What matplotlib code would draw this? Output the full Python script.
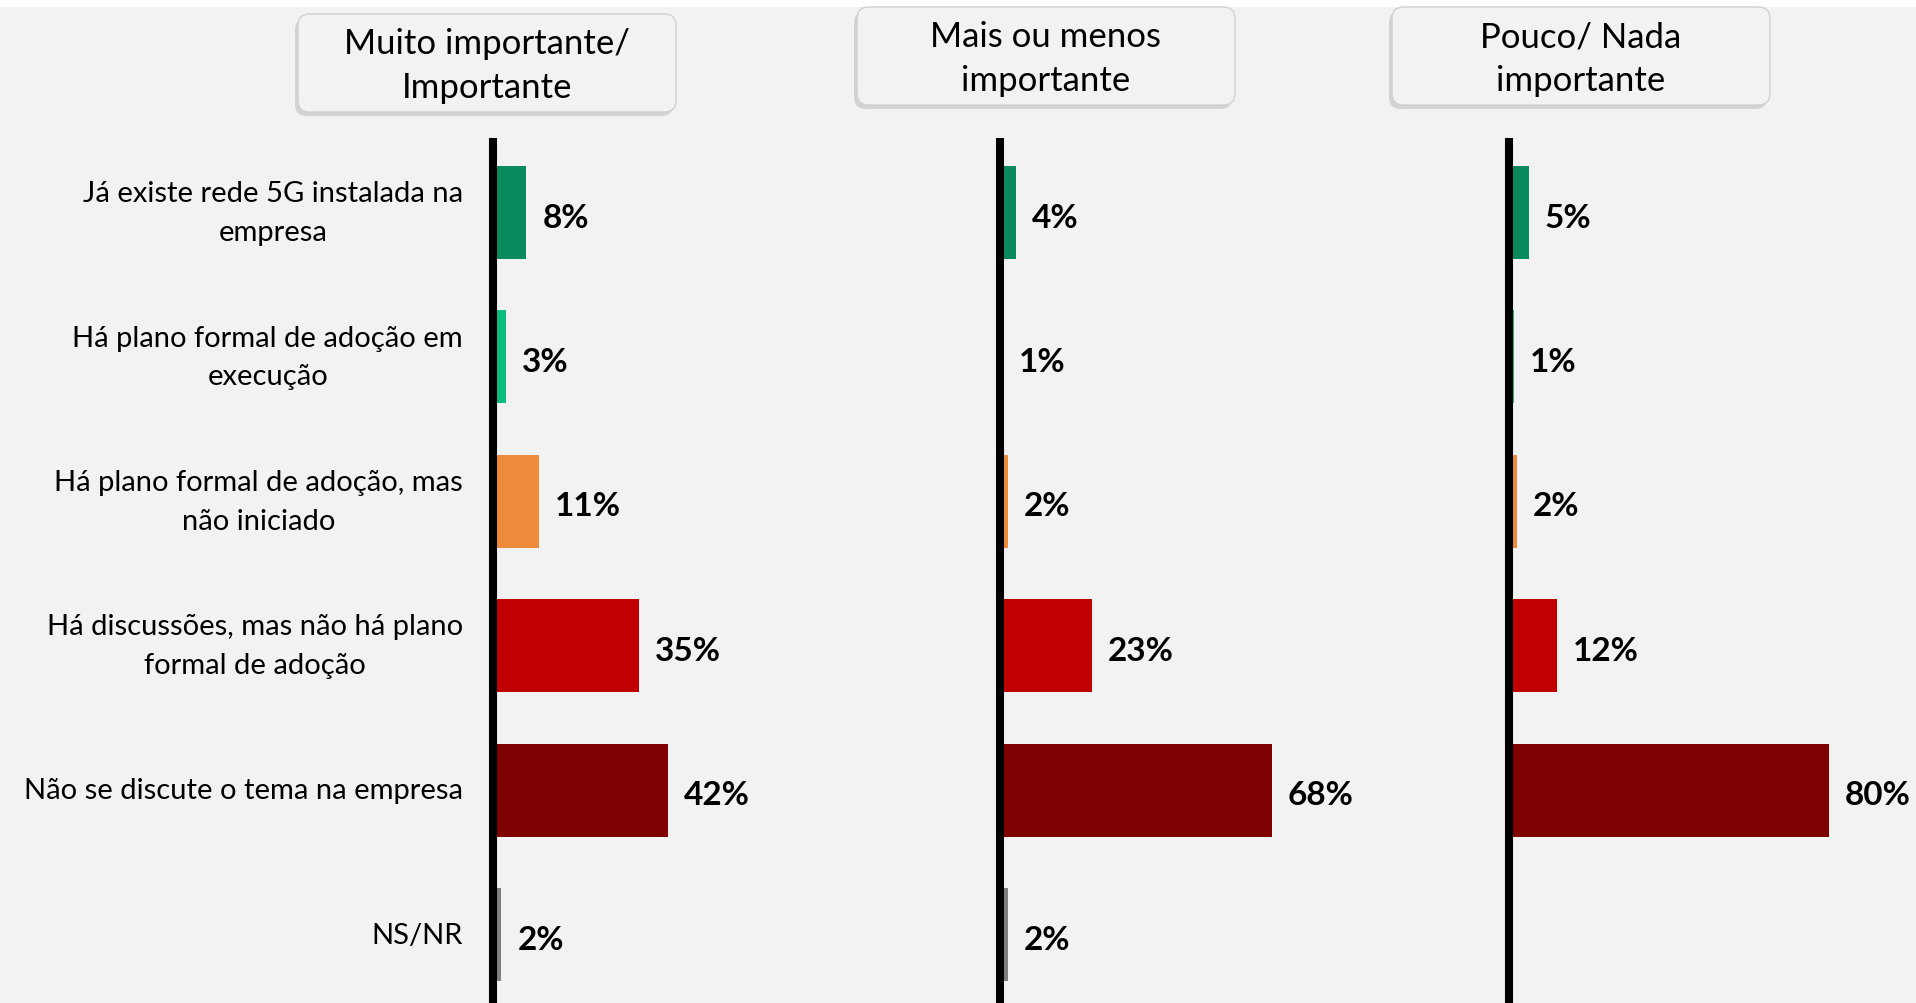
import numpy as np
import matplotlib.pyplot as plt
from matplotlib.patches import FancyBboxPatch, Rectangle

plt.rcParams['font.family'] = ['Lato', 'DejaVu Sans']

categorias = [
    'Já existe rede 5G instalada na\nempresa',
    'Há plano formal de adoção em\nexecução',
    'Há plano formal de adoção, mas\nnão iniciado',
    'Há discussões, mas não há plano\nformal de adoção',
    'Não se discute o tema na empresa',
    'NS/NR',
]
paineis = ['Muito importante/\nImportante', 'Mais ou menos\nimportante', 'Pouco/ Nada\nimportante']
muito_importante = [8, 3, 11, 35, 42, 2]
mais_ou_menos = [4, 0.7, 2, 23, 68, 2]
pouco_nada = [5, 1.2, 2, 12, 80, np.nan]
cores = ['#0B8A5E', '#0DBD80', '#ED8B3B', '#C00000', '#7F0000', '#808080']

W, H = 1916, 1004
fig = plt.figure(figsize=(W / 100, H / 100), dpi=100)
fig.patch.set_facecolor('#F2F2F2')
fig.patches.append(Rectangle((0, 1 - 8 / H), 1, 8 / H, transform=fig.transFigure,
                             facecolor='white', edgecolor='none', zorder=0))

px_por_pct = [4.17, 4.0, 4.0]
largura = 390
x_zero = [493, 1000, 1509]
topo = 143
centros_caixa = [(487, 64), (1046, 57), (1581, 57)]
centros_texto = [66, 59, 59]
caixa_w, caixa_h = 378, 98

for k, valores in enumerate([muito_importante, mais_ou_menos, pouco_nada]):
    ax = fig.add_axes([x_zero[k] / W, 0, largura / W, (H - topo) / H])
    ax.set_facecolor('none')
    y = np.arange(len(categorias))
    ax.barh(y, valores, height=0.644, color=cores, zorder=1)
    ax.set_xlim(0, largura / px_por_pct[k])
    ax.set_ylim(5.474, -0.488)
    for s in ['top', 'right', 'bottom']:
        ax.spines[s].set_visible(False)
    ax.spines['left'].set_linewidth(5.8)
    ax.spines['left'].set_color('black')
    ax.spines['left'].set_zorder(3)
    ax.set_xticks([])
    ax.set_yticks([])

    for i, v in enumerate(valores):
        if np.isnan(v):
            continue
        ax.annotate(f'{v:.0f}%', xy=(v, i), xytext=(11.5, -1.5), textcoords='offset points',
                    ha='left', va='center_baseline', fontsize=24, fontweight='bold',
                    color='black')

    if k == 0:
        for i, c in enumerate(categorias):
            ax.annotate(c, xy=(0, i), xytext=(-21.6, 0), textcoords='offset points',
                        ha='right', va='center', multialignment='center',
                        fontsize=21, linespacing=1.6, color='black',
                        annotation_clip=False)

    # caixa do cabeçalho
    cx, cy = centros_caixa[k]
    x0 = (cx - caixa_w / 2) / W
    y0 = 1 - (cy + caixa_h / 2) / H
    sombra = FancyBboxPatch((x0 - 3 / W, y0 - 4 / H), caixa_w / W, caixa_h / H,
                            boxstyle='round,pad=0,rounding_size=0.006',
                            transform=fig.transFigure, facecolor='#BFBFBF',
                            edgecolor='none', alpha=0.6, zorder=1,
                            mutation_aspect=W / H)
    caixa = FancyBboxPatch((x0, y0), caixa_w / W, caixa_h / H,
                           boxstyle='round,pad=0,rounding_size=0.006',
                           transform=fig.transFigure, facecolor='#F2F2F2',
                           edgecolor='#D0D0D0', linewidth=1, zorder=2,
                           mutation_aspect=W / H)
    fig.patches.append(sombra)
    fig.patches.append(caixa)
    fig.text(cx / W, 1 - centros_texto[k] / H, paineis[k], ha='center', va='center',
             multialignment='center', fontsize=25, linespacing=1.45, zorder=3)

fig.savefig('out.png', dpi=100, facecolor=fig.get_facecolor())
